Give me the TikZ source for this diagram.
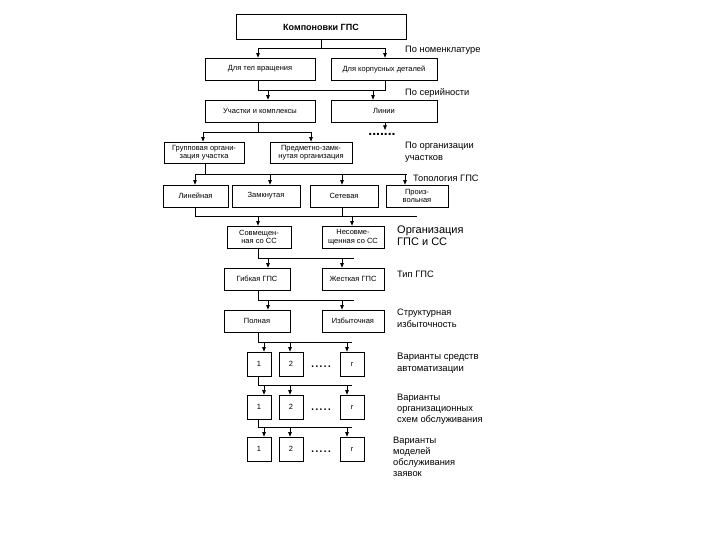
\documentclass[tikz,border=0pt]{standalone}
\usepackage{fontspec}
\setmainfont{Liberation Sans}
\usetikzlibrary{arrows.meta}
\begin{document}
\begin{tikzpicture}[x=1pt,y=-1pt,
 bx/.style={draw, line width=0.7pt, inner sep=0pt, align=center, font=\fontsize{7.5}{8.5}\selectfont},
 sq/.style={bx, minimum width=24, minimum height=24},
 lbl/.style={anchor=west, inner sep=0pt, align=left, font=\fontsize{9.3}{11.5}\selectfont},
 biglbl/.style={lbl, font=\fontsize{11}{12}\selectfont},
 vlbl/.style={lbl, font=\fontsize{9.3}{11}\selectfont},
 dotsn/.style={inner sep=0pt, font=\fontsize{15}{15}\selectfont},
 ln/.style={line width=0.7pt},
 arr/.style={line width=0.7pt, -{Triangle[width=3.5pt,length=4.5pt]}}]
\useasboundingbox (0,0) rectangle (720,540);

% boxes
\node[bx, minimum width=170, minimum height=25, font=\bfseries\fontsize{9}{10}\selectfont] (t) at (321,27) {Компоновки ГПС};
\node[bx, minimum width=110, minimum height=22] (a1) at (260,69) {Для тел вращения};
\node[bx, minimum width=106, minimum height=22] (a2) at (384,69) {Для корпусных деталей};
\node[bx, minimum width=110, minimum height=22] (b1) at (260,111) {Участки и комплексы};
\node[bx, minimum width=106, minimum height=22] (b2) at (384,111) {Линии};
\node[inner sep=0pt, font=\bfseries\fontsize{14}{14}\selectfont, anchor=base] (dt) at (382,136) {.......};
\node[bx, minimum width=80, minimum height=21] (c1) at (204,152.5) {Групповая органи-\\зация участка};
\node[bx, minimum width=82, minimum height=21] (c2) at (311,152.5) {Предметно-замк-\\нутая организация};
\node[bx, minimum width=65, minimum height=22] (d1) at (195.5,196) {Линейная};
\node[bx, minimum width=68, minimum height=22] (d2) at (266,196) {Замкнутая};
\node[bx, minimum width=68, minimum height=22] (d3) at (344,196) {Сетевая};
\node[bx, minimum width=62, minimum height=22] (d4) at (417,196) {Произ-\\вольная};
\node[bx, minimum width=64, minimum height=22] (e1) at (259,237) {Совмещен-\\ная со СС};
\node[bx, minimum width=62, minimum height=22] (e2) at (353,237) {Несовме-\\щенная со СС};
\node[bx, minimum width=66, minimum height=22] (f1) at (257,279) {Гибкая ГПС};
\node[bx, minimum width=62, minimum height=22] (f2) at (353,279) {Жесткая ГПС};
\node[bx, minimum width=66, minimum height=22] (g1) at (257,321) {Полная};
\node[bx, minimum width=62, minimum height=22] (g2) at (353,321) {Избыточная};
\node[sq] (h1) at (259,364) {1};
\node[sq] (h2) at (291,364) {2};
\node[dotsn, anchor=base] (hd) at (321,367) {.....};
\node[sq] (h3) at (352,364) {r};
\node[sq] (i1) at (259,407) {1};
\node[sq] (i2) at (291,407) {2};
\node[dotsn, anchor=base] (id) at (321,410) {.....};
\node[sq] (i3) at (352,407) {r};
\node[sq] (j1) at (259,449) {1};
\node[sq] (j2) at (291,449) {2};
\node[dotsn, anchor=base] (jd) at (321,452) {.....};
\node[sq] (j3) at (352,449) {r};

% labels
\node[lbl] (l1) at (405,50) {По номенклатуре};
\node[lbl] (l2) at (405,93) {По серийности};
\node[lbl] (l3) at (405,152.5) {По организации\\участков};
\node[lbl] (l4) at (413,178) {Топология ГПС};
\node[biglbl] (l5) at (397,236) {Организация\\ГПС и СС};
\node[lbl] (l6) at (397,274) {Тип ГПС};
\node[lbl] (l7) at (397,318.5) {Структурная\\избыточность};
\node[vlbl, font=\fontsize{9.5}{12}\selectfont] (l8) at (397,363) {Варианты средств\\автоматизации};
\node[vlbl] (l9) at (397,409) {Варианты\\организационных\\схем обслуживания};
\node[vlbl] (l10) at (393,456.5) {Варианты\\моделей\\обслуживания\\заявок};

% junction coordinates
\coordinate (k1a) at (258,48); \coordinate (k1b) at (385,48); \coordinate (k1t) at (321,48);
\coordinate (k2a) at (258,90); \coordinate (k2b) at (385,90);
\coordinate (k2c) at (268,90); \coordinate (k2d) at (373,90);
\coordinate (k3a) at (203,132); \coordinate (k3b) at (311,132); \coordinate (k3v) at (258,132);
\coordinate (kdl) at (385,122); \coordinate (kdr) at (385,130);
\coordinate (k4a) at (195,174); \coordinate (k4b) at (407,174); \coordinate (k4v) at (205,174);
\coordinate (k4c) at (270,174); \coordinate (k4d) at (342,174); \coordinate (k4e) at (405,174);
\coordinate (k5a) at (195,216); \coordinate (k5b) at (417,216); \coordinate (k5s) at (342,216);
\coordinate (k5c) at (258,216); \coordinate (k5d) at (352,216);
\coordinate (k6a) at (258,258); \coordinate (k6b) at (354,258);
\coordinate (k6c) at (268,258); \coordinate (k6d) at (342,258);
\coordinate (k7a) at (258,300); \coordinate (k7b) at (354,300);
\coordinate (k7c) at (268,300); \coordinate (k7d) at (342,300);
\coordinate (k8a) at (258,342); \coordinate (k8b) at (352,342);
\coordinate (k8c) at (264,342); \coordinate (k8d) at (290,342); \coordinate (k8e) at (347,342);
\coordinate (k9a) at (258,385); \coordinate (k9b) at (352,385);
\coordinate (k9c) at (264,385); \coordinate (k9d) at (290,385); \coordinate (k9e) at (347,385);
\coordinate (k10a) at (258,427); \coordinate (k10b) at (352,427);
\coordinate (k10c) at (264,427); \coordinate (k10d) at (290,427); \coordinate (k10e) at (347,427);

% connectors
\draw[ln] (t.south -| k1t) -- (k1t);
\draw[ln] (k1a) -- (k1b);
\draw[arr] (k1a) -- (a1.north -| k1a);
\draw[arr] (k1b) -- (a2.north -| k1b);

\draw[ln] (a1.south -| k2a) -- (k2a) -- (k2b) -- (a2.south -| k2b);
\draw[arr] (k2c) -- (b1.north -| k2c);
\draw[arr] (k2d) -- (b2.north -| k2d);
\draw[arr] (b2.south -| kdl) -- (kdr);

\draw[ln] (b1.south -| k3v) -- (k3v);
\draw[ln] (k3a) -- (k3b);
\draw[arr] (k3a) -- (c1.north -| k3a);
\draw[arr] (k3b) -- (c2.north -| k3b);

\draw[ln] (c1.south -| k4v) -- (k4v);
\draw[ln] (k4a) -- (k4b);
\draw[arr] (k4a) -- (d1.north -| k4a);
\draw[arr] (k4c) -- (d2.north -| k4c);
\draw[arr] (k4d) -- (d3.north -| k4d);
\draw[arr] (k4e) -- (d4.north -| k4e);

\draw[ln] (d1.south -| k5a) -- (k5a) -- (k5b);
\draw[ln] (d3.south -| k5s) -- (k5s);
\draw[arr] (k5c) -- (e1.north -| k5c);
\draw[arr] (k5d) -- (e2.north -| k5d);

\draw[ln] (e1.south -| k6a) -- (k6a) -- (k6b);
\draw[arr] (k6c) -- (f1.north -| k6c);
\draw[arr] (k6d) -- (f2.north -| k6d);

\draw[ln] (f1.south -| k7a) -- (k7a) -- (k7b);
\draw[arr] (k7c) -- (g1.north -| k7c);
\draw[arr] (k7d) -- (g2.north -| k7d);

\draw[ln] (g1.south -| k8a) -- (k8a) -- (k8b);
\draw[arr] (k8c) -- (h1.north -| k8c);
\draw[arr] (k8d) -- (h2.north -| k8d);
\draw[arr] (k8e) -- (h3.north -| k8e);

\draw[ln] (h1.south -| k9a) -- (k9a) -- (k9b);
\draw[arr] (k9c) -- (i1.north -| k9c);
\draw[arr] (k9d) -- (i2.north -| k9d);
\draw[arr] (k9e) -- (i3.north -| k9e);

\draw[ln] (i1.south -| k10a) -- (k10a) -- (k10b);
\draw[arr] (k10c) -- (j1.north -| k10c);
\draw[arr] (k10d) -- (j2.north -| k10d);
\draw[arr] (k10e) -- (j3.north -| k10e);
\end{tikzpicture}
\end{document}
